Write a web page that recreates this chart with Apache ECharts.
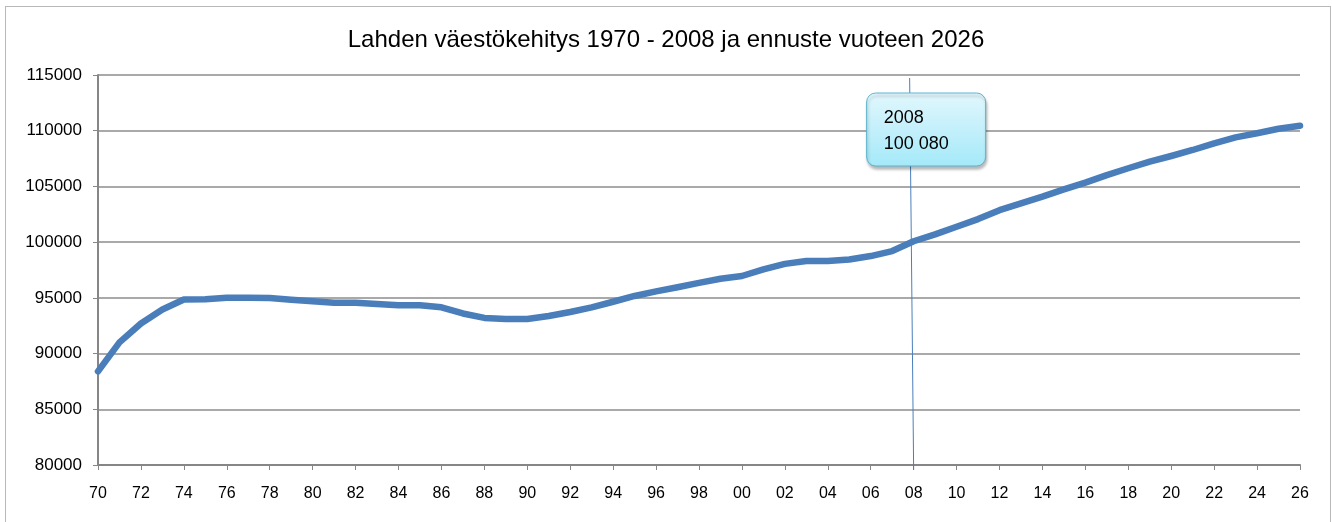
<!DOCTYPE html>
<html>
<head>
<meta charset="utf-8">
<script src="https://cdn.jsdelivr.net/npm/echarts@6/dist/echarts.min.js"></script>
<style>
html,body{margin:0;padding:0;background:#fff;}
#frame{position:absolute;left:5px;top:6px;width:1326px;height:530px;border:1px solid #b8b8b8;box-sizing:border-box;}
#chart{position:absolute;left:0;top:0;width:1332px;height:522px;}
</style>
</head>
<body>
<div id="frame"></div>
<div id="chart"></div>
<script>
const titleText = 'Lahden väestökehitys 1970 - 2008 ja ennuste vuoteen 2026';
const years = [];
for (let y = 1970; y <= 2026; y++) years.push(String(y));
const population = [
  88400, 91000, 92700, 93950, 94850, 94870, 95000, 95000, 94980, 94820,
  94700, 94570, 94560, 94450, 94340, 94330, 94150, 93600, 93200, 93100,
  93100, 93370, 93730, 94150, 94650, 95170, 95580, 95950, 96350, 96720,
  96960, 97560, 98050, 98300, 98310, 98450, 98750, 99200, 100080, 100700,
  101380, 102070, 102870, 103480, 104080, 104730, 105340, 106020, 106630, 107220,
  107730, 108270, 108870, 109400, 109770, 110180, 110450
];
const yTicks = [80000, 85000, 90000, 95000, 100000, 105000, 110000, 115000];
const calloutYear = '2008';
const calloutLabel = ['2008', '100 080'];

const FONT = 'Liberation Sans';
const chart = echarts.init(document.getElementById('chart'), null, {renderer: 'canvas'});
const option = {
  animation: false,
  backgroundColor: 'transparent',
  title: {
    text: titleText,
    left: 'center',
    top: 23,
    textStyle: {fontFamily: FONT, fontSize: 24, fontWeight: 'normal', color: '#000'}
  },
  grid: {left: 98, right: 32, top: 75, bottom: 57, containLabel: false},
  xAxis: {
    type: 'category',
    data: years,
    boundaryGap: false,
    axisLine: {lineStyle: {color: '#868686', width: 2}},
    axisTick: {show: true, interval: 1, length: 5, lineStyle: {color: '#868686', width: 1}},
    axisLabel: {
      interval: 1, margin: 21, color: '#000', fontFamily: FONT, fontSize: 16,
      formatter: v => v.slice(2)
    },
    splitLine: {show: false}
  },
  yAxis: {
    type: 'value',
    min: yTicks[0],
    max: yTicks[yTicks.length - 1],
    interval: 5000,
    axisLine: {show: true, lineStyle: {color: '#868686', width: 2}},
    axisTick: {show: true, length: 5, lineStyle: {color: '#868686', width: 1}},
    axisLabel: {margin: 16, color: '#000', fontFamily: FONT, fontSize: 17, formatter: v => String(v)},
    splitLine: {lineStyle: {color: '#8c8c8c', width: 1.5}}
  },
  series: [{
    type: 'line',
    data: population,
    symbol: 'none',
    smooth: false,
    lineStyle: {color: '#4a7ebb', width: 6.5, cap: 'round', join: 'round'},
    z: 3
  }]
};
chart.setOption(option);

function addCallout() {
  const xPix = chart.convertToPixel({xAxisIndex: 0}, calloutYear);
  const yTop = chart.convertToPixel({yAxisIndex: 0}, yTicks[yTicks.length - 1]);
  const yBot = chart.convertToPixel({yAxisIndex: 0}, yTicks[0]);
  chart.setOption({
    graphic: [
      {
        type: 'line', z: 10,
        shape: {x1: xPix - 4, y1: yTop + 3, x2: xPix, y2: yBot + 5},
        style: {stroke: '#4a7ebb', lineWidth: 1}
      },
      {
        type: 'rect', z: 20,
        shape: {x: xPix - 47, y: 93, width: 119, height: 73, r: 9},
        style: {
          fill: new echarts.graphic.LinearGradient(0, 0, 0, 1, [
            {offset: 0, color: '#e2f7fd'},
            {offset: 1, color: '#a4e9f9'}
          ]),
          stroke: '#5ab4cc', lineWidth: 1,
          shadowColor: 'rgba(0,0,0,0.28)', shadowBlur: 3, shadowOffsetX: 1, shadowOffsetY: 3
        }
      },
      {
        type: 'text', z: 21,
        x: xPix - 30, y: 105,
        style: {
          text: calloutLabel.join('\n'),
          fontFamily: FONT, fontSize: 18, lineHeight: 26, fill: '#000'
        }
      }
    ]
  });
}
addCallout();
</script>
</body>
</html>
